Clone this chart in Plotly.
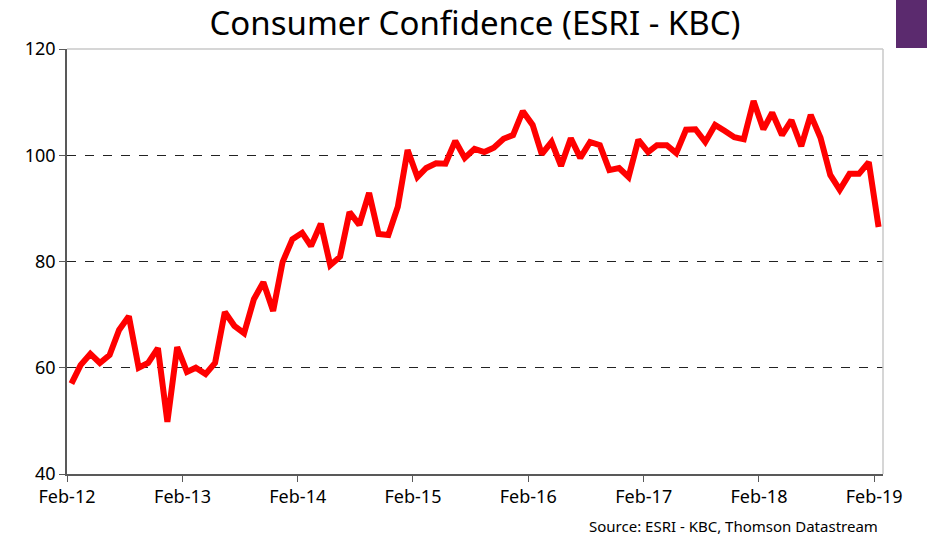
import pandas as pd
import plotly.graph_objects as go

# Monthly ESRI-KBC consumer sentiment, Feb-2012 .. Feb-2019
start_month = "2012-02-01"
values = [
    57.0, 60.5, 62.6, 60.9, 62.4, 67.1, 69.7, 60.0, 60.9, 63.7, 49.8,          # Feb-12 .. Dec-12
    63.9, 59.2, 60.0, 58.8, 60.9, 70.5, 67.9, 66.5, 72.9, 76.1, 70.7, 79.9,    # 2013
    84.2, 85.4, 82.9, 87.1, 79.3, 80.9, 89.3, 86.9, 92.9, 85.2, 85.0, 90.3,    # 2014
    101.0, 95.9, 97.6, 98.5, 98.4, 102.7, 99.5, 101.2, 100.6, 101.4, 103.1, 103.8,  # 2015
    108.3, 105.7, 100.2, 102.5, 98.0, 103.2, 99.5, 102.5, 101.9, 97.2, 97.6, 95.9,  # 2016
    102.9, 100.6, 101.9, 101.9, 100.4, 104.8, 104.9, 102.5, 105.7, 104.6, 103.4, 103.0,  # 2017
    110.2, 104.9, 108.0, 103.8, 106.6, 101.7, 107.6, 103.3, 96.3, 93.5, 96.5, 96.5,  # 2018
    98.7, 86.5,                                                                 # Jan-19, Feb-19
]
tick_dates = ["2012-02-01", "2013-02-01", "2014-02-01", "2015-02-01",
              "2016-02-01", "2017-02-01", "2018-02-01", "2019-02-01"]
tick_labels = ["Feb-12", "Feb-13", "Feb-14", "Feb-15", "Feb-16", "Feb-17", "Feb-18", "Feb-19"]
y_ticks = [40, 60, 80, 100, 120]

months = pd.date_range(start_month, periods=len(values), freq="MS") + pd.Timedelta(days=14)

FONT = "Noto Sans"

fig = go.Figure()
fig.add_trace(go.Scatter(
    x=months, y=values, mode="lines",
    line=dict(color="#ff0000", width=6, shape="linear"),
    hoverinfo="x+y", showlegend=False,
))

W, H = 927, 539
L, R, T, B = 67, 44, 49, 65

fig.update_layout(
    width=W, height=H,
    margin=dict(l=L, r=R, t=T, b=B),
    paper_bgcolor="white", plot_bgcolor="white",
    font=dict(family=FONT, color="#000000", size=16),
    title=dict(text="Consumer Confidence (ESRI - KBC)", x=0.5, xref="paper",
               xanchor="center", y=1 - 23 / H, yanchor="middle",
               font=dict(family=FONT, size=33, color="#000000")),
    xaxis=dict(
        type="date",
        range=["2012-02-01", "2019-03-01"],
        tickvals=tick_dates, ticktext=tick_labels,
        ticks="outside", ticklen=6, tickcolor="#595959", tickwidth=1,
        showline=True, linecolor="#595959", linewidth=1.5,
        showgrid=False, zeroline=False,
        tickfont=dict(family=FONT, size=18, color="#000000"),
        fixedrange=True,
    ),
    yaxis=dict(
        range=[40, 120],
        tickvals=y_ticks,
        ticks="outside", ticklen=6, tickcolor="#595959", tickwidth=1,
        showline=True, linecolor="#595959", linewidth=1.5,
        showgrid=True, gridcolor="#222222", gridwidth=1, griddash="dash",
        zeroline=False,
        tickfont=dict(family=FONT, size=18, color="#000000"),
        fixedrange=True,
    ),
    shapes=[
        # light plot-area border (top and right)
        dict(type="line", xref="paper", yref="paper", x0=0, x1=1, y0=1, y1=1,
             line=dict(color="#c8c8c8", width=1.5)),
        dict(type="line", xref="paper", yref="paper", x0=1, x1=1, y0=0, y1=1,
             line=dict(color="#c8c8c8", width=1.5)),
        # purple corner block
        dict(type="rect", xref="paper", yref="paper",
             x0=(896 - L) / (W - L - R), x1=(W - L) / (W - L - R),
             y0=1 + (T - 48) / (H - T - B), y1=1 + T / (H - T - B),
             fillcolor="#5b2a6e", line=dict(width=0), layer="above"),
    ],
    annotations=[
        dict(text="Source: ESRI - KBC, Thomson Datastream", xref="paper", yref="paper",
             x=(880 - L) / (W - L - R), y=-(526 - (H - B)) / (H - T - B),
             xanchor="right", yanchor="middle", showarrow=False,
             font=dict(family=FONT, size=15, color="#000000")),
    ],
)

fig.write_html("out.html", config={"displayModeBar": False},
               post_script="document.body.style.margin='0';document.body.style.overflow='hidden';")
